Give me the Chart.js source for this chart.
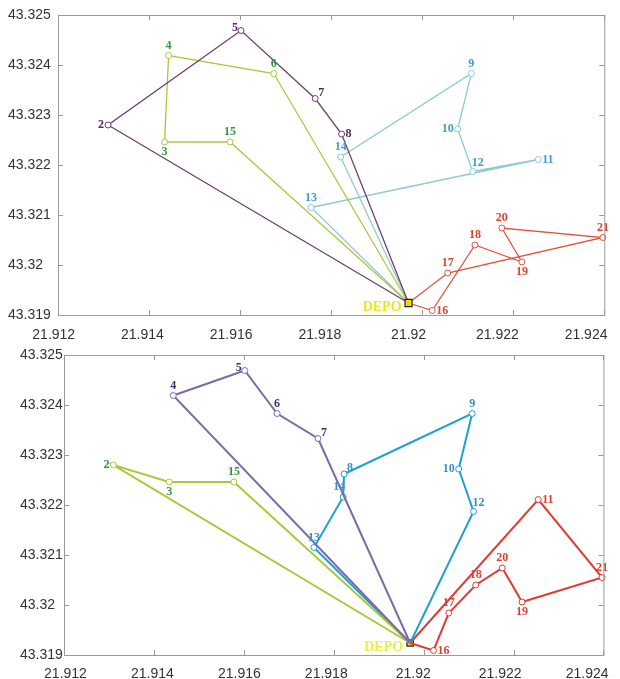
<!DOCTYPE html>
<html>
<head>
<meta charset="utf-8">
<script src="https://cdn.jsdelivr.net/npm/chart.js@4/dist/chart.umd.min.js"></script>
<style>
  html, body { margin: 0; padding: 0; background: #fff; }
  #wrap { position: relative; width: 620px; height: 679px; }
  canvas { position: absolute; left: 0; }
</style>
</head>
<body>
<div id="wrap">
  <canvas id="top" width="620" height="340" style="top:0"></canvas>
  <canvas id="bot" width="620" height="339" style="top:340px"></canvas>
</div>
<script>
// ---- data ----
const nodeIds = ['DEPO','2','3','4','5','6','7','8','9','10','11','12','13','14','15','16','17','18','19','20','21'];
const nodeLon = [21.91970,21.91310,21.91434,21.91443,21.91602,21.91674,21.91765,21.91823,21.92108,21.92078,21.92255,21.92111,21.91756,21.91821,21.91578,21.92022,21.92056,21.92116,21.92219,21.92175,21.92397];
const nodeLat = [43.31924,43.32280,43.32246,43.32419,43.32469,43.32383,43.32333,43.32262,43.32383,43.32272,43.32211,43.32187,43.32115,43.32216,43.32246,43.31909,43.31984,43.32040,43.32006,43.32074,43.32055];

const xTickVals = [21.912,21.914,21.916,21.918,21.920,21.922,21.924];
const xTickLabels = ['21.912','21.914','21.916','21.918','21.92','21.922','21.924'];
const yTickVals = [43.319,43.320,43.321,43.322,43.323,43.324,43.325];
const yTickLabels = ['43.319','43.32','43.321','43.322','43.323','43.324','43.325'];

// routes (solution 1, top panel)
const routesTop = [
  ['DEPO','2','5','7','8','DEPO'],
  ['DEPO','15','3','4','6','DEPO'],
  ['DEPO','14','9','10','12','11','13','DEPO'],
  ['DEPO','16','18','19','20','21','17','DEPO']
];
// routes (solution 2, bottom panel)
const routesBot = [
  ['DEPO','4','5','6','7','DEPO'],
  ['DEPO','2','3','15','DEPO'],
  ['DEPO','13','14','8','9','10','12','DEPO'],
  ['DEPO','16','17','18','20','19','21','11','DEPO']
];

// ---- styles ----
const topLineColors = ['#6e3f70','#b3c440','#8ccbd0','#e2533a'];
const topLabelColors = ['#4e2a60','#2f9a40','#3a9ed2','#e0402e'];
const botLineColors = ['#7e6aa8','#a9c83c','#1ea2cc','#e03c32'];
const botLabelColors = ['#34347e','#2e9a3e','#3b8fc8','#e03c32'];

const labelPosTop = {'2':'L','3':'B','4':'A','5':'LA','6':'A','7':'RA','8':'R','9':'A','10':'L','11':'R','12':'AR','13':'A','14':'A','15':'A','16':'R','17':'A','18':'A','19':'B','20':'A','21':'A'};
const labelPosBot = {'2':'L','3':'B','4':'A','5':'LA','6':'A','7':'RA','8':'RA','9':'A','10':'L','11':'R','12':'AR','13':'A','14':'AL','15':'A','16':'R','17':'A','18':'A','19':'B','20':'A','21':'A'};

function pt(id){ const i = nodeIds.indexOf(id); return {x: nodeLon[i], y: nodeLat[i]}; }

function makeDatasets(routes, colors, lw, depoOnTop){
  const ds = [{
    label:'DEPO', data:[pt('DEPO')], showLine:false,
    pointStyle:'rect', pointRadius:depoOnTop?5:4.5, pointBackgroundColor:'#f2d600',
    pointBorderColor:'#222', pointBorderWidth:1.2, order:depoOnTop?-1:10
  }];
  routes.forEach((r,k)=>{
    ds.push({
      label:'route'+(k+1),
      data:r.map(pt),
      showLine:true,
      borderColor:colors[k], borderWidth:lw,
      pointRadius:r.map(id=>id==='DEPO'?0:3),
      pointBackgroundColor:'#fff',
      pointBorderColor:colors[k], pointBorderWidth:1,
      pointStyle:'circle', tension:0, clip:false
    });
  });
  return ds;
}

const framePlugin = {
  id:'frame',
  afterDraw(chart){
    const {ctx, chartArea:a, scales} = chart;
    ctx.save();
    ctx.strokeStyle = '#9a9a9a';
    ctx.lineWidth = 1;
    ctx.strokeRect(a.left+0.5, a.top+0.5, a.right-a.left, a.bottom-a.top);
    ctx.beginPath();
    xTickVals.forEach(v=>{
      const x = Math.round(scales.x.getPixelForValue(v))+0.5;
      ctx.moveTo(x, a.bottom); ctx.lineTo(x, a.bottom-5);
      ctx.moveTo(x, a.top); ctx.lineTo(x, a.top+5);
    });
    yTickVals.forEach(v=>{
      const y = Math.round(scales.y.getPixelForValue(v))+0.5;
      ctx.moveTo(a.left, y); ctx.lineTo(a.left+5, y);
      ctx.moveTo(a.right, y); ctx.lineTo(a.right-5, y);
    });
    ctx.stroke();
    ctx.restore();
  }
};

const labelPlugin = {
  id:'nodeLabels',
  afterDatasetsDraw(chart, args, opts){
    const {ctx, scales} = chart;
    ctx.save();
    ctx.textBaseline = 'middle';
    opts.routes.forEach((r,k)=>{
      r.forEach(id=>{
        if(id==='DEPO') return;
        const p = pt(id);
        const x = scales.x.getPixelForValue(p.x), y = scales.y.getPixelForValue(p.y);
        const pos = opts.pos[id];
        let dx=0, dy=0, al='center';
        if(pos==='A'){dy=-10;}
        else if(pos==='B'){dy=10;}
        else if(pos==='L'){dx=-4; al='right';}
        else if(pos==='R'){dx=4; al='left';}
        else if(pos==='LA'){dx=-3; dy=-3; al='right';}
        else if(pos==='RA'){dx=3; dy=-6; al='left';}
        else if(pos==='AR'){dx=-1; dy=-9; al='left';}
        else if(pos==='AL'){dx=2; dy=-10; al='right';}
        ctx.font = 'bold 12px "Liberation Serif", "DejaVu Serif", serif';
        ctx.fillStyle = opts.colors[k];
        ctx.textAlign = al;
        ctx.fillText(id, x+dx, y+dy);
      });
    });
    const d = pt('DEPO');
    const dxp = scales.x.getPixelForValue(d.x), dyp = scales.y.getPixelForValue(d.y);
    ctx.font = 'bold 14px "Liberation Serif", "DejaVu Serif", serif';
    ctx.fillStyle = opts.depoColor;
    ctx.textAlign = 'right';
    ctx.fillText('DEPO', dxp-7, dyp+4);
    ctx.restore();
  }
};

// The source figure's x tick labels sit slightly compressed relative to the tick marks;
// a label-only axis with slightly wider bounds reproduces that.
function makeChart(id, routes, lineColors, labelColors, pos, lw, padLeft, yWidth, padRight, xHeight, lblMin, lblMax, lblPad, depoOnTop, depoColor){
  return new Chart(document.getElementById(id), {
    type:'scatter',
    data:{datasets:makeDatasets(routes, lineColors, lw, depoOnTop)},
    options:{
      responsive:false, animation:false, devicePixelRatio:1,
      layout:{padding:{left:padLeft, right:padRight, top:15, bottom:0}},
      plugins:{legend:{display:false}, tooltip:{enabled:false},
        nodeLabels:{routes:routes, colors:labelColors, pos:pos, depoColor:depoColor}},
      scales:{
        x:{type:'linear', min:21.912, max:21.924, display:false,
          afterBuildTicks(s){ s.ticks = xTickVals.map(v=>({value:v})); }
        },
        xl:{type:'linear', position:'bottom', axis:'x', min:lblMin, max:lblMax,
          afterBuildTicks(s){ s.ticks = xTickVals.map(v=>({value:v})); },
          afterFit(s){ s.height = xHeight; },
          grid:{display:false, drawTicks:false}, border:{display:false},
          ticks:{padding:lblPad, color:'#333', font:{family:'"Liberation Sans", Arial, sans-serif', size:14},
            maxRotation:0, autoSkip:false,
            callback:(v,i)=>xTickLabels[i]}
        },
        y:{type:'linear', min:43.319, max:43.325,
          afterBuildTicks(s){ s.ticks = yTickVals.map(v=>({value:v})); },
          afterFit(s){ s.width = yWidth; },
          grid:{display:false, drawTicks:false}, border:{display:false},
          ticks:{padding:4, crossAlign:'far', color:'#333', font:{family:'"Liberation Sans", Arial, sans-serif', size:14},
            autoSkip:false,
            callback:(v,i)=>yTickLabels[i]}
        }
      }
    },
    plugins:[framePlugin, labelPlugin]
  });
}

makeChart('top', routesTop, topLineColors, topLabelColors, labelPosTop, 1.3, 8, 50, 13, 25, 21.9120964, 21.9244104, 12, true, '#f2e21e');
makeChart('bot', routesBot, botLineColors, botLabelColors, labelPosBot, 2, 20, 44, 5, 24, 21.9119662, 21.9243762, 11, false, '#eeee3a');
</script>
</body>
</html>
